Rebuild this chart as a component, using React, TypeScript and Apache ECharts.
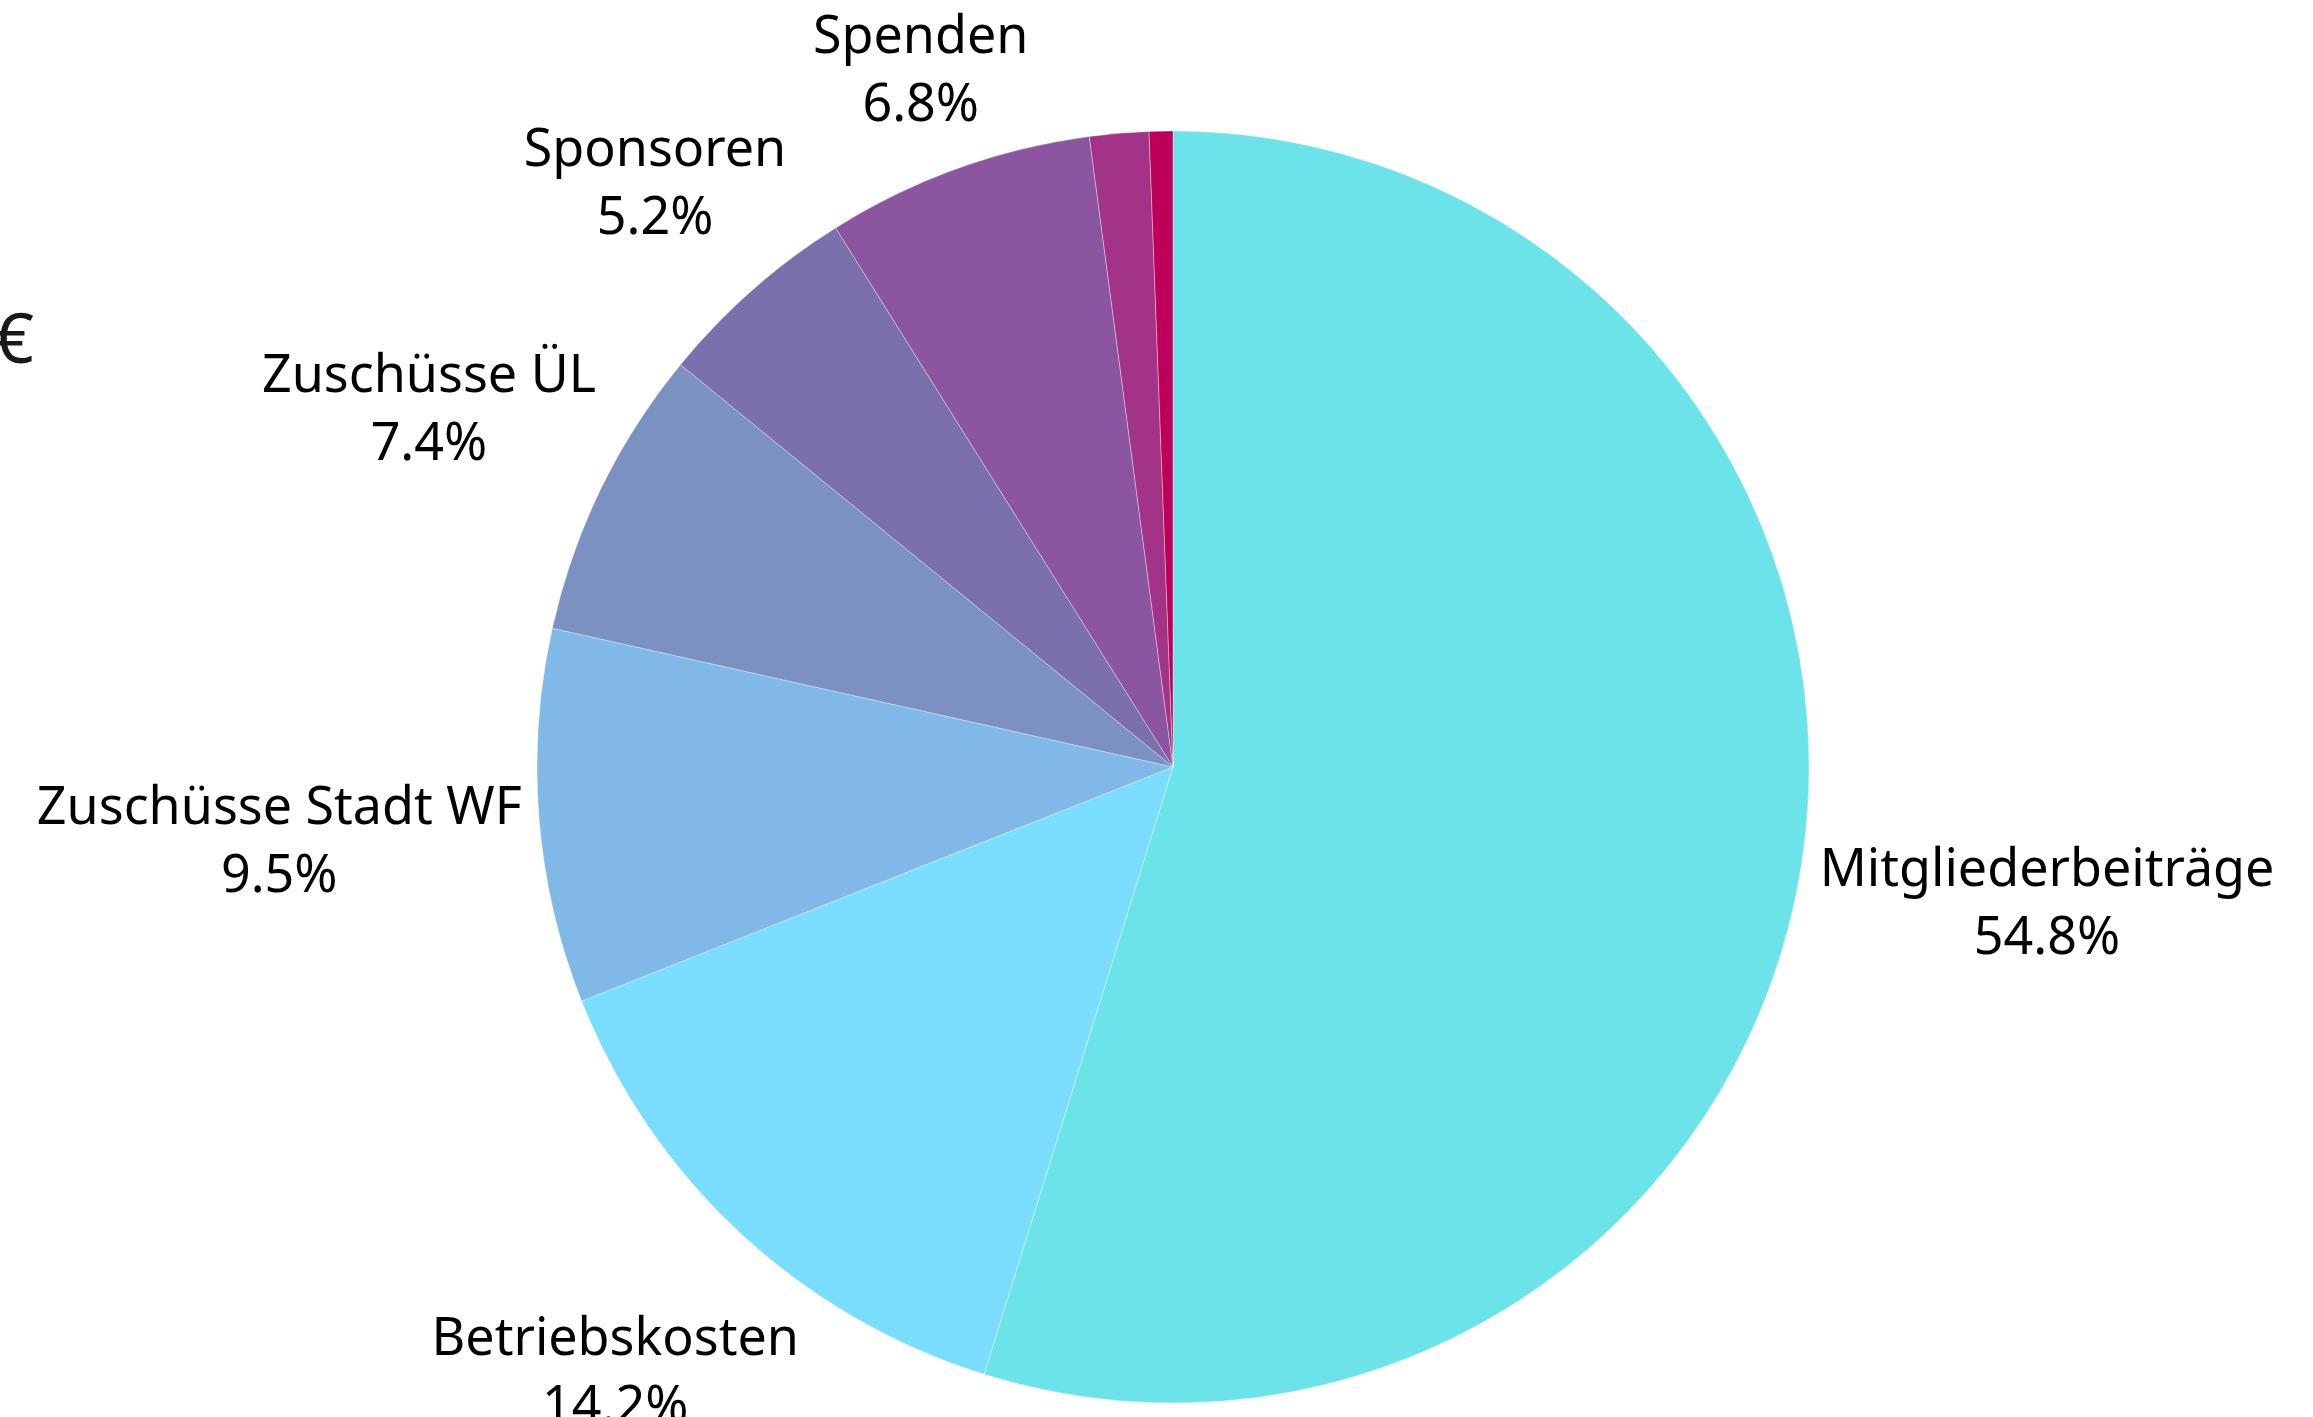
import React, { useEffect, useRef } from "react";
import * as echarts from "echarts";

const categories = [
  "Mitgliederbeiträge",
  "Betriebskosten",
  "Zuschüsse Stadt WF",
  "Zuschüsse ÜL",
  "Sponsoren",
  "Spenden",
  "Sonstiges A",
  "Sonstiges B",
];
const shares = [54.8, 14.2, 9.5, 7.4, 5.2, 6.8, 1.5, 0.6];
const labelled = [true, true, true, true, true, true, false, false];
const colors = [
  "#6BE3E8",
  "#7ADDFE",
  "#80B9E7",
  "#7B91C1",
  "#7B70AC",
  "#8B569F",
  "#A33386",
  "#BE0058",
];

const FONT = "'Noto Sans', 'Open Sans', sans-serif";
const GAP = 14;

export default function App() {
  const ref = useRef<HTMLDivElement>(null);
  useEffect(() => {
    if (!ref.current) return;
    const chart = echarts.init(ref.current, undefined, { renderer: "svg" });
    const data = categories.map((name, i) => ({
      name,
      value: shares[i],
      itemStyle: { color: colors[i] },
      label: { show: labelled[i] },
      labelLine: { show: labelled[i] },
    }));
    chart.setOption({
      animation: false,
      backgroundColor: "#ffffff",
      graphic: [
        {
          type: "text",
          x: 34,
          y: 336,
          style: {
            text: "€",
            fontSize: 70,
            fontFamily: FONT,
            fill: "#1a1a1a",
            align: "right",
            verticalAlign: "middle",
          },
        },
      ],
      series: [
        {
          type: "pie",
          center: [1173, 767],
          radius: 636,
          startAngle: 90,
          clockwise: true,
          percentPrecision: 1,
          avoidLabelOverlap: false,
          itemStyle: { borderColor: "rgba(255,255,255,0.35)", borderWidth: 1 },
          label: {
            show: true,
            position: "outside",
            formatter: "{b}\n{d}%",
            fontSize: 52,
            lineHeight: 68,
            fontFamily: FONT,
            color: "#000000",
            align: "center",
          },
          labelLine: {
            show: true,
            length: 20,
            length2: 0,
            lineStyle: { opacity: 0 },
          },
          labelLayout: (p: any) => {
            const pts = p.labelLinePoints;
            if (!pts || pts.length < 2) return {};
            const p0 = pts[0];
            const p1 = pts[1];
            const vx = p1[0] - p0[0];
            const vy = p1[1] - p0[1];
            const len = Math.hypot(vx, vy) || 1;
            const ux = vx / len;
            const uy = vy / len;
            const w = p.labelRect.width / 2;
            const h = p.labelRect.height / 2 - 6;
            const d = GAP + Math.abs(ux) * w + Math.abs(uy) * h;
            return {
              x: p0[0] + ux * d,
              y: p0[1] + uy * d,
              align: "center",
              verticalAlign: "middle",
            };
          },
          emphasis: { disabled: true },
          data,
        },
      ],
    });
    return () => chart.dispose();
  }, []);
  return (
    <div
      ref={ref}
      style={{ position: "absolute", left: 0, top: 0, width: 2313, height: 1417 }}
    />
  );
}
